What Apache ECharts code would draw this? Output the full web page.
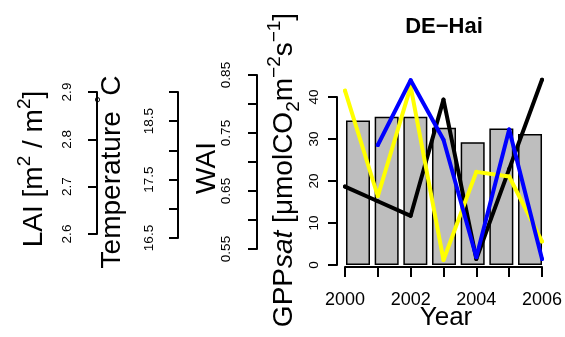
<!DOCTYPE html>
<html><head><meta charset="utf-8">
<script src="https://cdn.jsdelivr.net/npm/echarts@6/dist/echarts.min.js"></script>
<style>html,body{margin:0;padding:0;background:#fff}#c{width:565px;height:337px}</style>
</head><body><div id="c"></div>
<script>
// ---------- data ----------
const years = ['2000', '2001', '2002', '2003', '2004', '2005', '2006'];
const gppSat = [34.4, 35.3, 35.3, 32.7, 29.2, 32.5, 31.2];
const temperature = [17.38, 17.13, 16.88, 18.87, 16.14, 17.68, 19.21];
const wai = [0.823, 0.641, 0.830, 0.531, 0.683, 0.675, 0.563];
const lai = [null, 2.788, 2.925, 2.799, 2.551, 2.821, 2.547];
const laiTicks = [2.6, 2.7, 2.8, 2.9];
const tempTicks = [16.5, 17.5, 18.5];
const waiTicks = [0.55, 0.65, 0.75, 0.85];
const gppTicks = [0, 10, 20, 30, 40];

// ---------- layout ----------
const FONT = '"Liberation Sans", Arial, Helvetica, sans-serif';
const plot = { left: 345, right: 542, top: 71, bottom: 267 };
const axes = [
  { x: 97,  min: 2.6,  max: 2.9,  step: 0.1,  yLo: 234, yHi: 92, labels: laiTicks,  dec: 1, margin: 23 },
  { x: 178, min: 16.5, max: 19,   step: 0.5,  yLo: 238, yHi: 92, labels: tempTicks, dec: 1, margin: 22 },
  { x: 257, min: 0.55, max: 0.85, step: 0.05, yLo: 249, yHi: 75, labels: waiTicks,  dec: 2, margin: 24 },
  { x: 337, min: 0,    max: 40,   step: 10,   yLo: 265, yHi: 97, labels: gppTicks,  dec: 0, margin: 16 }
];
function hiddenRange(a) {
  const k = (a.max - a.min) / (a.yLo - a.yHi);
  return { min: a.min - (plot.bottom - a.yLo) * k, max: a.max + (a.yHi - plot.top) * k };
}
const barPitch = 28.67;
const lineDefs = [
  { name: 'Temperature', data: temperature, color: '#000000', axis: axes[1] },
  { name: 'WAI', data: wai, color: '#ffff00', axis: axes[2] },
  { name: 'LAI', data: lai, color: '#0000ff', axis: axes[0] }
];

const grid = [], xAxis = [], yAxis = [], series = [];
const plotRect = { left: plot.left, top: plot.top, width: plot.right - plot.left, height: plot.bottom - plot.top };

grid.push({ left: 358 - barPitch / 2, top: axes[3].yHi, width: barPitch * years.length, height: axes[3].yLo - axes[3].yHi });
xAxis.push({ gridIndex: 0, type: 'category', data: years, show: false });
yAxis.push({ gridIndex: 0, type: 'value', min: axes[3].min, max: axes[3].max, show: false });
series.push({ name: 'GPPsat', type: 'bar', xAxisIndex: 0, yAxisIndex: 0, z: 2, data: gppSat, barWidth: 24,
  itemStyle: { color: '#bebebe', borderColor: '#000', borderWidth: 1.5 } });

lineDefs.forEach((d, i) => {
  const gi = grid.length;
  grid.push(Object.assign({}, plotRect));
  if (i === 0) {
    xAxis.push({ gridIndex: gi, type: 'category', data: years, boundaryGap: false,
      axisLine: { show: true, onZero: false, lineStyle: { color: '#000', width: 2 } },
      axisTick: { show: true, interval: 0, length: 10, lineStyle: { color: '#000', width: 2 } },
      axisLabel: { interval: 1, margin: 24, fontSize: 18, color: '#000', fontFamily: FONT },
      splitLine: { show: false } });
  } else {
    xAxis.push({ gridIndex: gi, type: 'category', data: years, boundaryGap: false, show: false });
  }
  const r = hiddenRange(d.axis);
  yAxis.push({ gridIndex: gi, type: 'value', min: r.min, max: r.max, show: false });
  series.push({ name: d.name, type: 'line', xAxisIndex: gi, yAxisIndex: gi, z: 5 + i, clip: false,
    data: d.data,
    symbol: 'circle', symbolSize: 4, itemStyle: { color: d.color },
    lineStyle: { color: d.color, width: 4, cap: 'round', join: 'round' } });
});

axes.forEach(a => {
  const gi = grid.length;
  grid.push({ left: a.x, top: a.yHi, width: 10, height: a.yLo - a.yHi });
  xAxis.push({ gridIndex: gi, type: 'value', min: 0, max: 1, show: false });
  yAxis.push({ gridIndex: gi, type: 'value', position: 'left', min: a.min, max: a.max, interval: a.step,
    axisLine: { show: true, onZero: false, lineStyle: { color: '#000', width: 2 } },
    axisTick: { show: true, length: 9, lineStyle: { color: '#000', width: 2 } },
    axisLabel: { rotate: 90, margin: a.margin, fontSize: 13.5, color: '#000', fontFamily: FONT,
      customValues: a.labels, formatter: v => Number(v).toFixed(a.dec) },
    splitLine: { show: false } });
});

function richStyles() {
  const n = { fontSize: 28, fontFamily: FONT, fill: '#000', lineHeight: 38, verticalAlign: 'middle' };
  return {
    n: n,
    it: Object.assign({}, n, { fontStyle: 'italic' }),
    sup: { fontSize: 19, fontFamily: FONT, fill: '#000', lineHeight: 38, verticalAlign: 'top' },
    sub: { fontSize: 19, fontFamily: FONT, fill: '#000', lineHeight: 38, verticalAlign: 'bottom' }
  };
}
function vText(x, y, text) {
  return { type: 'text', x, y, rotation: Math.PI / 2,
    style: { text, rich: richStyles(), fontSize: 28, fontFamily: FONT, fill: '#000', align: 'center', verticalAlign: 'middle' } };
}

const option = {
  animation: false,
  backgroundColor: '#fff',
  grid, xAxis, yAxis, series,
  graphic: [
    { type: 'text', x: 444, y: 27, style: { text: 'DE−Hai', fontSize: 22, fontWeight: 'bold', fontFamily: FONT, fill: '#000', align: 'center', verticalAlign: 'middle' } },
    { type: 'text', x: 446, y: 318, style: { text: 'Year', fontSize: 26, fontFamily: FONT, fill: '#000', align: 'center', verticalAlign: 'middle' } },
    vText(34, 169, '{n|LAI [m}{sup|2}{n| / m}{sup|2}{n|]}'),
    vText(112, 172, '{n|Temperature }{sup|°}{n|C}'),
    vText(207, 168, '{n|WAI}'),
    vText(284, 170, '{n|GPP}{it|sat}{n| [μmolCO}{sub|2}{n|m}{sup|−2}{n|s}{sup|−1}{n|]}')
  ]
};
echarts.init(document.getElementById('c'), null, { renderer: 'canvas' }).setOption(option);
</script>
</body></html>
